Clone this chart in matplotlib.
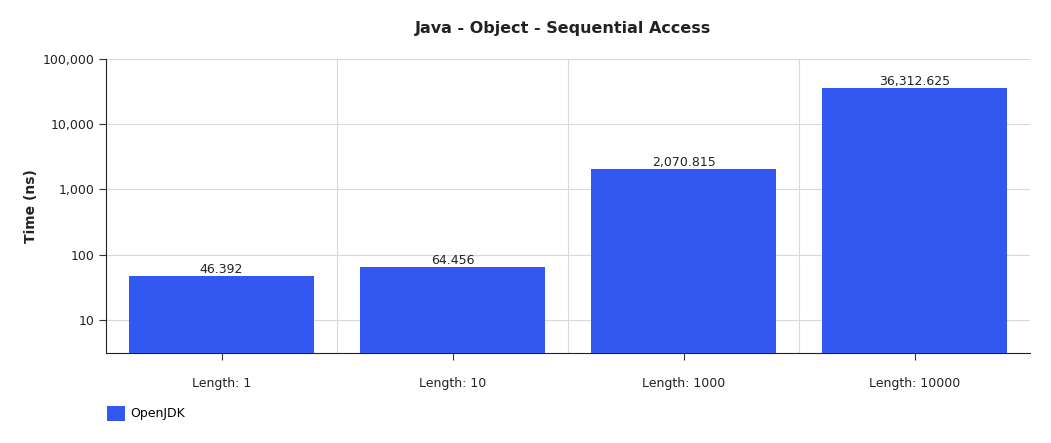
import matplotlib.pyplot as plt
import matplotlib.ticker as mticker
from matplotlib.patches import Patch
import numpy as np

categories = ['Length: 1', 'Length: 10', 'Length: 1000', 'Length: 10000']
openjdk_times = [46.392, 64.456, 2070.815, 36312.625]
bar_labels = ['46.392', '64.456', '2,070.815', '36,312.625']

bar_color = '#3358F2'
text_color = '#222222'

plt.rcParams['font.family'] = 'DejaVu Sans'

fig = plt.figure(figsize=(10.51, 4.43), dpi=100)
ax = fig.add_axes([0.1009, 0.2032, 0.8792, 0.6636])

x = np.arange(len(categories))
bars = ax.bar(x, openjdk_times, width=0.8, color=bar_color, zorder=3)

ax.set_yscale('log')
ax.set_ylim(3.1, 100000)
ax.set_xlim(-0.5, len(categories) - 0.5)
ax.yaxis.set_major_locator(mticker.FixedLocator([10, 100, 1000, 10000, 100000]))
ax.yaxis.set_major_formatter(mticker.FuncFormatter(lambda v, p: f'{int(v):,}'))
ax.yaxis.set_minor_locator(mticker.NullLocator())

# horizontal grid on log ticks, vertical lines between categories
ax.grid(axis='y', color='#d9d9d9', linewidth=0.8, zorder=0)
for b in x[:-1] + 0.5:
    ax.axvline(b, color='#d9d9d9', linewidth=0.8, zorder=0)

ax.set_xticks(x)
ax.set_xticklabels(categories, fontsize=9, color=text_color)
ax.tick_params(axis='x', length=5, pad=12, color='#333333')
ax.tick_params(axis='y', length=5, labelsize=9, labelcolor=text_color, color='#333333')

for side in ['top', 'right']:
    ax.spines[side].set_visible(False)
ax.spines['left'].set_color('#222222')
ax.spines['bottom'].set_color('#222222')

for rect, lbl in zip(bars, bar_labels):
    ax.annotate(lbl, (rect.get_x() + rect.get_width() / 2, rect.get_height()),
                xytext=(0, 0), textcoords='offset points', ha='center', va='bottom',
                fontsize=9, color=text_color)

ax.set_ylabel('Time (ns)', fontsize=10, fontweight='bold', color=text_color, labelpad=3)
fig.text(0.536, 0.936, 'Java - Object - Sequential Access', ha='center', va='center',
         fontsize=11.5, fontweight='bold', color=text_color)

fig.legend(handles=[Patch(facecolor=bar_color, label='OpenJDK')], loc='lower left',
           bbox_to_anchor=(0.091, 0.025), frameon=False, fontsize=9,
           handlelength=1.45, handleheight=1.45, handletextpad=0.4)

fig.savefig('out.png', dpi=100)
